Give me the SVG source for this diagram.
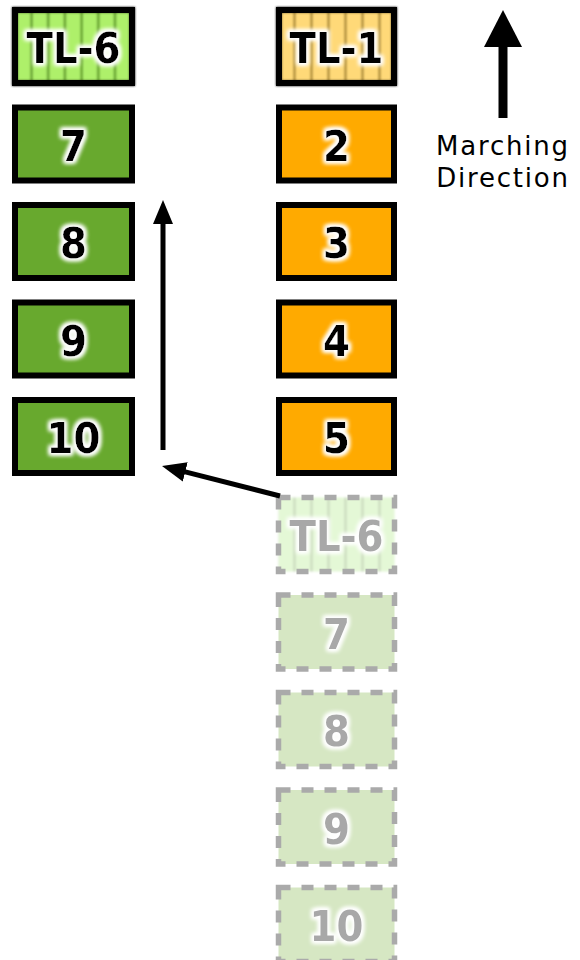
<svg xmlns="http://www.w3.org/2000/svg" width="580" height="960" viewBox="0 0 580 960">
  <defs>
    <style>
      .box { stroke: #000; stroke-width: 6; }
      .green { fill: #68a92e; }
      .orange { fill: #ffaa00; }
      .ghost { fill: #d6e7c3; stroke: #aaaaaa; stroke-width: 5.5; stroke-dasharray: 12 11; }
      .lbl { font-family: "DejaVu Sans", sans-serif; font-stretch: condensed; font-weight: bold; font-size: 43px; text-anchor: middle; fill: #000; filter: url(#glow); }
      .glbl { font-family: "DejaVu Sans", sans-serif; font-stretch: condensed; font-weight: bold; font-size: 43px; text-anchor: middle; fill: #a8a8a8; filter: url(#glow); }
      .note { font-family: "DejaVu Sans", sans-serif; font-size: 26px; text-anchor: middle; fill: #000; letter-spacing: 1.8px; }
      .conn { stroke: #000; stroke-width: 5; fill: none; }
    </style>
    <filter id="glow" x="-30%" y="-30%" width="160%" height="160%">
      <feMorphology in="SourceAlpha" operator="dilate" radius="2" result="d"/>
      <feGaussianBlur in="d" stdDeviation="2" result="b"/>
      <feFlood flood-color="#ffffff" result="w"/>
      <feComposite in="w" in2="b" operator="in" result="g"/>
      <feMerge>
        <feMergeNode in="g"/>
        <feMergeNode in="g"/>
        <feMergeNode in="SourceGraphic"/>
      </feMerge>
    </filter>
    <filter id="soft" x="-10%" y="-10%" width="120%" height="120%">
      <feGaussianBlur stdDeviation="0.8"/>
    </filter>
    <pattern id="stripeG" x="23" y="0" width="16.7" height="20" patternUnits="userSpaceOnUse">
      <rect width="16.7" height="20" fill="#aef06a"/>
      <rect x="7.5" width="2" height="20" fill="#4f8a1c"/>
    </pattern>
    <pattern id="stripeO" x="286" y="0" width="17" height="20" patternUnits="userSpaceOnUse">
      <rect width="17" height="20" fill="#ffd978"/>
      <rect x="7.5" width="2" height="20" fill="#9a7a28"/>
    </pattern>
    <pattern id="stripeGh" x="286" y="0" width="17" height="20" patternUnits="userSpaceOnUse">
      <rect width="17" height="20" fill="#e4f8d6"/>
      <rect x="7.5" width="2" height="20" fill="#c8d6bc"/>
    </pattern>
    <marker id="ah" markerUnits="userSpaceOnUse" markerWidth="26" markerHeight="22" refX="2" refY="10" orient="auto">
      <path d="M0,0 L24,10 L0,20 z" fill="#000"/>
    </marker>
    <marker id="ahBig" markerUnits="userSpaceOnUse" markerWidth="40" markerHeight="40" refX="2" refY="19" orient="auto">
      <path d="M0,0 L37,19 L0,38 z" fill="#000"/>
    </marker>
  </defs>

  <rect width="580" height="960" fill="#ffffff"/>

  <!-- Left column -->
  <g id="L-TL6">
    <rect x="15" y="10" width="117" height="73" class="box" fill="url(#stripeG)" filter="url(#soft)"/>
    <rect x="15" y="10" width="117" height="73" class="box" fill="none"/>
    <text x="73.5" y="63" class="lbl">TL-6</text>
  </g>
  <g id="L-7">
    <rect x="15" y="107.5" width="117" height="73" class="box green"/>
    <text x="73.5" y="161" class="lbl">7</text>
  </g>
  <g id="L-8">
    <rect x="15" y="205" width="117" height="73" class="box green"/>
    <text x="73.5" y="258" class="lbl">8</text>
  </g>
  <g id="L-9">
    <rect x="15" y="302.5" width="117" height="73" class="box green"/>
    <text x="73.5" y="356" class="lbl">9</text>
  </g>
  <g id="L-10">
    <rect x="15" y="400" width="117" height="73" class="box green"/>
    <text x="73.5" y="453" class="lbl">10</text>
  </g>

  <!-- Right column -->
  <g id="R-TL1">
    <rect x="279" y="10" width="115" height="73" class="box" fill="url(#stripeO)" filter="url(#soft)"/>
    <rect x="279" y="10" width="115" height="73" class="box" fill="none"/>
    <text x="336.5" y="63" class="lbl">TL-1</text>
  </g>
  <g id="R-2">
    <rect x="279" y="107.5" width="115" height="73" class="box orange"/>
    <text x="336.5" y="161" class="lbl">2</text>
  </g>
  <g id="R-3">
    <rect x="279" y="205" width="115" height="73" class="box orange"/>
    <text x="336.5" y="258" class="lbl">3</text>
  </g>
  <g id="R-4">
    <rect x="279" y="302.5" width="115" height="73" class="box orange"/>
    <text x="336.5" y="356" class="lbl">4</text>
  </g>
  <g id="R-5">
    <rect x="279" y="400" width="115" height="73" class="box orange"/>
    <text x="336.5" y="453" class="lbl">5</text>
  </g>

  <!-- Ghost column -->
  <g id="G-TL6">
    <rect x="278.5" y="497.5" width="116" height="74" fill="url(#stripeGh)" filter="url(#soft)"/>
    <rect x="278.5" y="497.5" width="116" height="74" class="ghost" style="fill:none"/>
    <text x="336.5" y="551" class="glbl">TL-6</text>
  </g>
  <g id="G-7">
    <rect x="278.5" y="595" width="116" height="74" class="ghost"/>
    <text x="336.5" y="649" class="glbl">7</text>
  </g>
  <g id="G-8">
    <rect x="278.5" y="692.5" width="116" height="74" class="ghost"/>
    <text x="336.5" y="746" class="glbl">8</text>
  </g>
  <g id="G-9">
    <rect x="278.5" y="790" width="116" height="74" class="ghost"/>
    <text x="336.5" y="844" class="glbl">9</text>
  </g>
  <g id="G-10">
    <rect x="278.5" y="887.5" width="116" height="74" class="ghost"/>
    <text x="336.5" y="941" class="glbl">10</text>
  </g>

  <!-- Legend -->
  <g id="marching">
    <text x="503" y="155" class="note">Marching</text>
    <text x="503" y="187" class="note">Direction</text>
  </g>

  <!-- Connectors -->
  <g id="connectors">
    <line x1="163" y1="450" x2="163" y2="222" class="conn" marker-end="url(#ah)"/>
    <line x1="280" y1="496" x2="183.3" y2="471.4" class="conn" marker-end="url(#ah)"/>
    <line x1="503" y1="118" x2="503" y2="45" class="conn" style="stroke-width:9" marker-end="url(#ahBig)"/>
  </g>
</svg>
